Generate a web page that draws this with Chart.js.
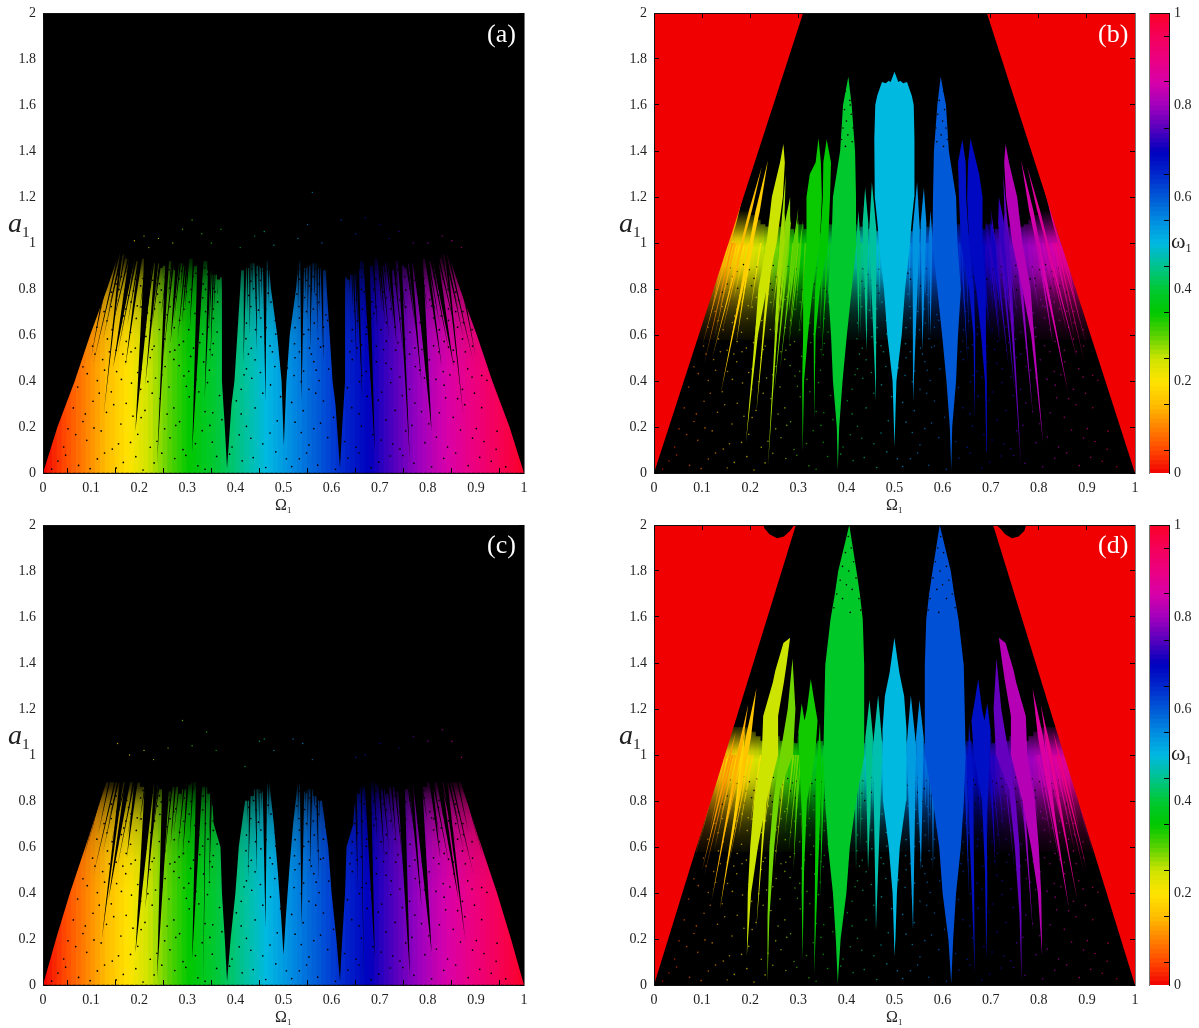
<!DOCTYPE html>
<html>
<head>
<meta charset="utf-8">
<script src="https://cdn.jsdelivr.net/npm/chart.js@4/dist/chart.umd.min.js"></script>
<style>
body { margin:0; background:#fff; width:1199px; height:1028px; overflow:hidden; position:relative; font-family:"Liberation Serif",serif; color:#222; }
canvas { position:absolute; }
.lab { position:absolute; white-space:nowrap; }
.lab sub { font-size:.55em; font-style:normal; vertical-align:-.35em; line-height:0; }
.aName { font-size:28px; font-style:italic; }
.wName { font-size:16px; }
.wBar { font-size:22px; }
.tag { font-size:26px; color:#fff; }
</style>
</head>
<body>
<script>
var xTickLabels = ["0","0.1","0.2","0.3","0.4","0.5","0.6","0.7","0.8","0.9","1"];
var yTickLabels = ["0","0.2","0.4","0.6","0.8","1","1.2","1.4","1.6","1.8","2"];
var barTickLabels = ["0","","0.2","","0.4","","0.6","","0.8","","1"];

var omegaGrid = [
.005,.015,.025,.035,.045,.055,.065,.075,.085,.095,.105,.115,.125,.135,.145,.155,.165,.175,.185,.195,
.205,.215,.225,.235,.245,.255,.265,.275,.285,.295,.305,.315,.325,.335,.345,.355,.365,.375,.385,.395,
.405,.415,.425,.435,.445,.455,.465,.475,.485,.495,.505,.515,.525,.535,.545,.555,.565,.575,.585,.595,
.605,.615,.625,.635,.645,.655,.665,.675,.685,.695,.705,.715,.725,.735,.745,.755,.765,.775,.785,.795,
.805,.815,.825,.835,.845,.855,.865,.875,.885,.895,.905,.915,.925,.935,.945,.955,.965,.975,.985,.995];

// top of the coloured columns, one per omegaGrid entry
var topA = [
.96,.96,.96,.96,.96,.96,.96,.96,.96,.96, .96,.96,.96,.96,.96,.97,.95,.93,.94,.92,
.93,.92,.9,.91,.89,.9,.92,.88,.91,.9, .93,.9,.89,.92,.88,.86,.84,.85,.85,.85,
.85,.88,.89,.91,.9,.89,.92,.93,.9,.89, .89,.9,.93,.92,.89,.9,.91,.89,.88,.85,
.85,.85,.85,.84,.86,.88,.92,.89,.9,.93, .9,.91,.88,.92,.9,.89,.91,.89,.92,.93,
.92,.94,.93,.95,.97,.96,.96,.96,.96,.96, .96,.96,.96,.96,.96,.96,.96,.96,.96,.96];
var topC = [
.88,.88,.88,.88,.88,.88,.88,.88,.88,.88, .88,.88,.88,.88,.88,.88,.88,.88,.88,.88,
.86,.84,.83,.87,.85,.82,.84,.86,.83,.85, .87,.88,.84,.86,.83,.78,.74,.8,.8,.8,
.8,.78,.8,.82,.85,.84,.87,.89,.88,.87, .87,.88,.89,.87,.84,.85,.82,.8,.78,.8,
.8,.8,.8,.74,.78,.83,.86,.84,.88,.87, .85,.83,.86,.84,.82,.85,.87,.83,.84,.86,
.88,.88,.88,.88,.88,.88,.88,.88,.88,.88, .88,.88,.88,.88,.88,.88,.88,.88,.88,.88];
var topB = [
1.14,1.14,1.14,1.14,1.14,1.14,1.14,1.14,1.14,1.14, 1.14,1.14,1.14,1.14,1.14,1.14,1.14,1.14,1.14,1.14,
1.12,1.1,1.08,1.07,1.1,1.06,1.07,1.04,1.06,1.04, 1.08,1.06,1.1,1.07,1.04,1.06,1.08,1.07,1.07,1.07,
1.07,1.08,1.05,1.07,1.06,1.08,1.05,1.07,1.1,1.12, 1.12,1.1,1.07,1.05,1.08,1.06,1.07,1.05,1.08,1.07,
1.07,1.07,1.07,1.08,1.06,1.04,1.07,1.1,1.06,1.08, 1.04,1.06,1.04,1.07,1.06,1.1,1.07,1.08,1.1,1.12,
1.14,1.14,1.14,1.14,1.14,1.14,1.14,1.14,1.14,1.14, 1.14,1.14,1.14,1.14,1.14,1.14,1.14,1.14,1.14,1.14];
var topD = [
1.12,1.12,1.12,1.12,1.12,1.12,1.12,1.12,1.12,1.12, 1.12,1.12,1.12,1.12,1.12,1.12,1.12,1.12,1.12,1.12,
1.1,1.08,1.06,1.08,1.05,1.08,1.06,1.04,1.06,1.05, 1.08,1.06,1.08,1.05,1.06,1.04,1.06,1.06,1.06,1.06,
1.06,1.06,1.08,1.05,1.07,1.06,1.08,1.06,1.08,1.08, 1.08,1.08,1.06,1.08,1.06,1.07,1.05,1.08,1.06,1.06,
1.06,1.06,1.06,1.06,1.04,1.06,1.05,1.08,1.06,1.08, 1.05,1.06,1.04,1.06,1.08,1.05,1.08,1.06,1.08,1.1,
1.12,1.12,1.12,1.12,1.12,1.12,1.12,1.12,1.12,1.12, 1.12,1.12,1.12,1.12,1.12,1.12,1.12,1.12,1.12,1.12];

// thin tongues: tip omega, tip a, top omega, top a, width
var tonguesA = [
[.192,.18,.222,1,.02],[.2125,.38,.24,1,.008],[.237,.04,.26,1,.008],[.31,.09,.329,1,.014],[.336,.32,.348,1,.007],
[.348,.48,.356,1,.004],[.417,.48,.421,1,.006],[.445,.53,.441,1,.005],[.4625,.31,.461,1,.009],[.146,.46,.19,1,.014],
[.126,.25,.165,1,.005],[.171,.46,.207,1,.008],[.289,.65,.303,1,.005],[.265,.565,.283,1,.009],[.1,.5,.145,1,.005],
[.808,.18,.778,1,.02],[.7875,.38,.76,1,.008],[.763,.04,.74,1,.008],[.69,.09,.671,1,.014],[.664,.32,.652,1,.007],
[.652,.48,.644,1,.004],[.583,.48,.579,1,.006],[.555,.53,.559,1,.005],[.5375,.31,.539,1,.009],[.854,.46,.81,1,.014],
[.874,.25,.835,1,.005],[.829,.46,.793,1,.008],[.711,.65,.697,1,.005],[.735,.565,.717,1,.009],[.9,.5,.855,1,.005]];
var tonguesC = [
[.192,.138,.226,1,.022],[.2125,.33,.24,1,.009],[.237,.03,.258,1,.017],[.31,.11,.327,1,.015],[.333,0,.339,1,.0025],
[.345,.4,.352,1,.004],[.4625,.25,.461,1,.011],[.445,.48,.441,1,.005],[.427,.45,.431,1,.004],[.122,.195,.17,1,.009],
[.136,.37,.185,1,.013],[.174,.55,.2,1,.009],[.29,.55,.305,1,.005],[.265,.6,.28,1,.005],
[.808,.138,.774,1,.022],[.7875,.33,.76,1,.009],[.763,.03,.742,1,.017],[.69,.11,.673,1,.015],[.667,0,.661,1,.0025],
[.655,.4,.648,1,.004],[.5375,.25,.539,1,.011],[.555,.48,.559,1,.005],[.573,.45,.569,1,.004],[.878,.195,.83,1,.009],
[.864,.37,.815,1,.013],[.826,.55,.8,1,.009],[.71,.55,.695,1,.005],[.735,.6,.72,1,.005]];

// hair-thin rays shared by every panel: tip omega, tip a, omega at a = 1
var rays = [
[.085,.55,.135],[.095,.62,.14],[.105,.48,.163],[.115,.66,.15],[.125,.58,.168],[.135,.7,.17],[.14,.6,.185],[.15,.72,.175],[.155,.52,.2],
[.165,.75,.192],[.175,.64,.205],[.18,.8,.198],[.2,.7,.222],[.205,.52,.235],[.225,.62,.25],[.23,.74,.25],[.245,.68,.265],[.25,.5,.275],
[.26,.76,.272],[.272,.66,.29],[.28,.58,.3],[.285,.78,.295],[.295,.7,.305],[.305,.62,.315],[.32,.72,.33],[.345,.6,.352],[.355,.7,.36],
[.362,.78,.365],[.425,.7,.425],[.43,.6,.43],[.435,.78,.434],[.45,.66,.448],[.455,.76,.453],[.47,.72,.468],[.478,.82,.476],
[.915,.55,.865],[.905,.62,.86],[.895,.48,.837],[.885,.66,.85],[.875,.58,.832],[.865,.7,.83],[.86,.6,.815],[.85,.72,.825],[.845,.52,.8],
[.835,.75,.808],[.825,.64,.795],[.82,.8,.802],[.8,.7,.778],[.795,.52,.765],[.775,.62,.75],[.77,.74,.75],[.755,.68,.735],[.75,.5,.725],
[.74,.76,.728],[.728,.66,.71],[.72,.58,.7],[.715,.78,.705],[.705,.7,.695],[.695,.62,.685],[.68,.72,.67],[.655,.6,.648],[.645,.7,.64],
[.638,.78,.635],[.575,.7,.575],[.57,.6,.57],[.565,.78,.566],[.55,.66,.552],[.545,.76,.547],[.53,.72,.532],[.522,.82,.524]];

// wide dark gaps of the unlocked panels, [omega, a] outline
var gapsA = [
[[.3826,.02],[.392,.3],[.398,.4],[.404,.6],[.41,.8],[.415,1],[.37,1],[.372,.8],[.372,.6],[.372,.4],[.378,.2]],
[[.5007,.12],[.506,.4],[.513,.6],[.526,.8],[.535,1],[.465,1],[.474,.8],[.487,.6],[.496,.4]],
[[.6174,.02],[.622,.2],[.628,.4],[.628,.6],[.628,.8],[.63,1],[.585,1],[.59,.8],[.596,.6],[.602,.4],[.608,.3]]];
var gapsC = [
[[.3826,.015],[.39,.2],[.4,.4],[.407,.6],[.42,.8],[.43,1],[.35,1],[.352,.8],[.355,.7],[.369,.6],[.372,.4],[.378,.2]],
[[.5,.13],[.505,.3],[.512,.5],[.52,.7],[.528,.85],[.535,1],[.465,1],[.472,.85],[.48,.7],[.488,.5],[.495,.3]],
[[.6174,.015],[.622,.2],[.628,.4],[.631,.6],[.645,.7],[.648,.8],[.65,1],[.57,1],[.58,.8],[.593,.6],[.6,.4],[.61,.2]]];

// outer corners, [omega, a] outline
var cornersA = [[[0,0],[.03,.2],[.066,.4],[.098,.6],[.133,.8],[.165,1],[.2,1.3],[0,1.3]],
  [[1,0],[.97,.2],[.934,.4],[.902,.6],[.867,.8],[.835,1],[.8,1.3],[1,1.3]]];
var cornersC = [[[0,0],[.027,.2],[.056,.4],[.088,.6],[.119,.8],[.15,1],[.2,1.3],[0,1.3]],
  [[1,0],[.973,.2],[.944,.4],[.912,.6],[.881,.8],[.85,1],[.8,1.3],[1,1.3]]];
var cornersB = [[[0,0],[.31,2],[0,2]],[[1,0],[.692,2],[1,2]]];
var cornersD = [[[0,0],[.295,2],[0,2]],[[1,0],[.705,2],[1,2]]];
var bitesD = [[[.226,2.01],[.23,1.985],[.24,1.96],[.256,1.942],[.27,1.95],[.283,1.975],[.295,2.01]],
  [[.705,2.01],[.72,1.985],[.73,1.96],[.744,1.942],[.758,1.95],[.77,1.975],[.775,2.01]]];

// large locked tongues: winding number, [omega, a] outline
var lockedB = [
[.5,[[.5,.113],[.504,.4],[.515,.6],[.522,.8],[.53,.95],[.536,1.1],[.541,1.2],[.541,1.3],[.542,1.45],[.54,1.6],[.536,1.64],[.526,1.7],[.518,1.695],[.512,1.705],[.508,1.7],[.5,1.745],[.492,1.7],[.488,1.705],[.482,1.695],[.474,1.7],[.464,1.64],[.46,1.6],[.458,1.45],[.459,1.3],[.459,1.2],[.464,1.1],[.47,.95],[.478,.8],[.485,.6],[.496,.4]]],
[.395,[[.382,.013],[.385,.2],[.392,.4],[.401,.6],[.411,.8],[.421,1],[.42,1.2],[.418,1.4],[.411,1.6],[.404,1.723],[.393,1.6],[.387,1.4],[.372,1.2],[.369,1],[.362,.8],[.368,.6],[.372,.4],[.38,.2]]],
[.6,[[.618,.013],[.62,.2],[.628,.4],[.632,.6],[.638,.8],[.631,1],[.628,1.2],[.613,1.4],[.607,1.6],[.596,1.723],[.589,1.6],[.582,1.4],[.58,1.2],[.579,1],[.589,.8],[.599,.6],[.608,.4],[.615,.2]]],
[.345,[[.309,.09],[.312,.4],[.32,.6],[.33,.8],[.345,1],[.349,1.2],[.347,1.35],[.342,1.455],[.336,1.35],[.324,1.3],[.317,1.2],[.317,1],[.31,.8],[.31,.6],[.308,.4]]],
[.35,[[.333,.23],[.336,.6],[.345,.8],[.362,1],[.366,1.2],[.368,1.35],[.359,1.45],[.352,1.35],[.351,1.2],[.345,1],[.335,.8],[.332,.6]]],
[.69,[[.691,.09],[.692,.4],[.69,.6],[.69,.8],[.683,1],[.683,1.2],[.676,1.3],[.658,1.455],[.653,1.35],[.651,1.2],[.655,1],[.67,.8],[.68,.6],[.688,.4]]],
[.68,[[.667,.23],[.668,.6],[.665,.8],[.655,1],[.649,1.2],[.648,1.35],[.641,1.45],[.632,1.35],[.634,1.2],[.638,1],[.655,.8],[.664,.6]]],
[.25,[[.191,.13],[.216,.6],[.234,.8],[.255,1],[.268,1.2],[.272,1.35],[.269,1.43],[.262,1.35],[.245,1.2],[.234,1],[.217,.8],[.21,.6]]],
[.82,[[.809,.13],[.79,.6],[.783,.8],[.766,1],[.755,1.2],[.738,1.35],[.731,1.43],[.728,1.35],[.732,1.2],[.745,1],[.766,.8],[.784,.6]]]];
var lockedD = [
[.39,[[.382,.006],[.388,.2],[.4,.4],[.407,.6],[.42,.8],[.437,1],[.437,1.39],[.434,1.59],[.428,1.7],[.421,1.8],[.406,2],[.383,1.8],[.376,1.7],[.367,1.59],[.356,1.39],[.352,1],[.356,.8],[.362,.6],[.372,.4],[.378,.2]]],
[.61,[[.618,.006],[.622,.2],[.628,.4],[.638,.6],[.644,.8],[.648,1],[.644,1.39],[.633,1.59],[.624,1.7],[.617,1.8],[.594,2],[.579,1.8],[.572,1.7],[.566,1.59],[.563,1.39],[.563,1],[.58,.8],[.593,.6],[.6,.4],[.612,.2]]],
[.5,[[.4997,.126],[.502,.2],[.505,.4],[.511,.6],[.524,.8],[.525,1.11],[.52,1.256],[.51,1.36],[.4997,1.51],[.49,1.36],[.48,1.256],[.475,1.11],[.476,.8],[.488,.6],[.496,.4],[.499,.2]]],
[.25,[[.193,.127],[.202,.4],[.216,.6],[.234,.8],[.258,1],[.258,1.17],[.27,1.315],[.276,1.4],[.283,1.51],[.269,1.487],[.252,1.365],[.247,1.315],[.227,1.17],[.224,1],[.208,.8],[.2,.6],[.195,.4]]],
[.82,[[.807,.127],[.805,.4],[.8,.6],[.792,.8],[.776,1],[.773,1.17],[.753,1.315],[.748,1.365],[.731,1.487],[.717,1.51],[.724,1.4],[.73,1.315],[.742,1.17],[.742,1],[.766,.8],[.784,.6],[.798,.4]]],
[.29,[[.236,.015],[.24,.3],[.25,.6],[.262,.85],[.289,1],[.294,1.2],[.288,1.42],[.278,1.2],[.262,1],[.248,.8],[.24,.6],[.236,.3]]],
[.76,[[.764,.015],[.764,.3],[.76,.6],[.752,.8],[.738,1],[.722,1.2],[.712,1.42],[.706,1.2],[.711,1],[.738,.85],[.75,.6],[.76,.3]]],
[.34,[[.309,.108],[.312,.5],[.318,.8],[.335,1],[.34,1.15],[.332,1.25],[.326,1.33],[.318,1.2],[.313,1.15],[.307,1.225],[.3,1.1],[.302,1],[.308,.7],[.307,.4]]],
[.68,[[.691,.108],[.693,.4],[.692,.7],[.698,1],[.7,1.1],[.693,1.225],[.687,1.15],[.682,1.2],[.674,1.33],[.668,1.25],[.66,1.15],[.665,1],[.682,.8],[.688,.5]]]];

// thin locked tongues: tip omega, tip a, peak omega, peak a, width, winding number
var spikesB = [
[.139,.35,.237,1.36,.009,.17],[.121,.5,.224,1.33,.006,.15],[.1,.55,.19,1.25,.004,.13],[.17,.55,.21,1.1,.005,.18],
[.2125,.26,.245,1,.006,.24],[.237,.03,.274,1.3,.008,.27],[.25,.35,.285,1.12,.006,.29],[.262,.45,.3,1.15,.005,.3],
[.28,.55,.31,1.1,.004,.31],[.3,.6,.33,1.15,.004,.33],[.348,.48,.36,.95,.003,.35],[.262,.7,.283,1.2,.012,.28],
[.25,.6,.272,1.13,.01,.27],[.28,.7,.3,1.1,.01,.3],[.442,.53,.439,1.24,.012,.45],[.4615,.31,.453,1.265,.015,.46],
[.425,.6,.425,1.14,.008,.43],[.558,.53,.561,1.24,.012,.55],[.5385,.31,.547,1.265,.015,.54],[.575,.6,.575,1.14,.008,.57],
[.861,.35,.763,1.36,.009,.85],[.879,.5,.776,1.33,.006,.87],[.9,.55,.81,1.25,.004,.89],[.83,.55,.79,1.1,.005,.83],
[.7875,.26,.755,1,.006,.79],[.763,.03,.726,1.3,.008,.76],[.75,.35,.715,1.12,.006,.74],[.738,.45,.7,1.15,.005,.73],
[.72,.55,.69,1.1,.004,.72],[.7,.6,.67,1.15,.004,.7],[.652,.48,.64,.95,.003,.65],[.738,.7,.717,1.2,.012,.73],
[.75,.6,.728,1.13,.01,.745],[.72,.7,.7,1.1,.01,.71]];
var spikesD = [
[.137,.33,.213,1.29,.011,.16],[.12,.37,.196,1.22,.008,.14],[.1,.5,.17,1.1,.005,.12],[.16,.6,.19,1.12,.005,.18],
[.2125,.24,.235,.9,.005,.24],[.29,.5,.3,.95,.004,.31],[.333,.05,.345,1.14,.012,.35],[.345,.38,.355,1.1,.005,.36],
[.42,.5,.42,1,.005,.43],[.4615,.24,.466,1.26,.02,.47],[.445,.5,.448,1.24,.016,.45],[.5385,.24,.534,1.26,.02,.53],
[.555,.5,.552,1.24,.016,.55],[.58,.5,.58,1,.005,.57],[.667,.05,.655,1.14,.012,.68],[.655,.38,.645,1.1,.005,.66],
[.71,.5,.7,.95,.004,.71],[.7875,.24,.765,.9,.005,.79],[.84,.6,.81,1.12,.005,.85],[.9,.5,.83,1.1,.005,.9],
[.88,.37,.804,1.22,.008,.88],[.863,.33,.787,1.29,.011,.86]];

// dark specks: omega, a pairs
var specks = [
.031,.052,.074,.033,.113,.061,.152,.022,.193,.071,.231,.044,.274,.063,.322,.031,.361,.072,.414,.053,.463,.024,.533,.062,.571,.034,.634,.065,.682,.023,.722,.074,.771,.042,.833,.064,.884,.032,.932,.051,
.043,.113,.091,.142,.144,.104,.182,.133,.223,.112,.264,.153,.291,.102,.352,.134,.393,.113,.432,.151,.484,.092,.553,.122,.592,.154,.651,.112,.703,.143,.742,.104,.794,.132,.841,.113,.893,.152,.942,.103,
.052,.192,.083,.224,.121,.183,.162,.213,.204,.241,.253,.192,.284,.223,.331,.184,.372,.232,.423,.203,.472,.174,.524,.221,.563,.193,.604,.242,.662,.204,.713,.231,.754,.183,.802,.214,.853,.242,.901,.193,.944,.182,
.063,.283,.104,.312,.132,.264,.173,.303,.212,.272,.243,.324,.272,.283,.304,.331,.353,.262,.402,.314,.441,.283,.494,.332,.541,.271,.583,.313,.642,.284,.674,.333,.732,.272,.773,.304,.824,.262,.862,.323,.912,.284,
.072,.374,.113,.402,.142,.353,.184,.391,.203,.364,.234,.413,.262,.374,.293,.422,.324,.353,.342,.393,.412,.364,.434,.412,.473,.383,.522,.424,.553,.364,.574,.402,.633,.371,.663,.424,.704,.352,.723,.393,.762,.364,.793,.414,.834,.382,.872,.364,.923,.403,
.083,.462,.124,.493,.153,.441,.172,.484,.204,.452,.223,.502,.254,.463,.272,.494,.303,.442,.334,.483,.352,.514,.423,.453,.441,.492,.482,.463,.524,.501,.542,.443,.563,.484,.594,.452,.643,.493,.672,.442,.693,.484,.724,.453,.753,.502,.774,.463,.803,.492,.832,.441,.854,.484,.883,.453,.912,.424,
.103,.552,.134,.583,.152,.534,.173,.572,.192,.543,.214,.594,.231,.552,.253,.583,.274,.534,.292,.572,.313,.543,.332,.604,.354,.563,.422,.584,.433,.542,.453,.592,.472,.553,.484,.604,.523,.562,.542,.603,.554,.543,.572,.584,.583,.552,.642,.574,.653,.544,.672,.603,.693,.552,.714,.573,.733,.534,.752,.582,.773,.544,.794,.593,.812,.553,.834,.572,.853,.534,.872,.583,.893,.552,
.112,.634,.133,.662,.144,.623,.163,.654,.182,.612,.194,.672,.213,.634,.224,.663,.242,.624,.254,.674,.273,.632,.284,.664,.303,.623,.324,.652,.343,.634,.354,.672,.362,.613,.423,.652,.442,.623,.453,.674,.464,.632,.483,.663,.524,.632,.533,.674,.552,.623,.564,.652,.583,.634,.592,.664,.643,.623,.654,.662,.673,.634,.682,.672,.703,.623,.714,.654,.732,.634,.743,.672,.763,.612,.784,.654,.793,.632,.812,.674,.824,.623,.843,.664,.862,.634,.874,.654,.892,.623,
.142,.724,.153,.752,.172,.713,.183,.744,.204,.722,.213,.764,.232,.714,.243,.742,.264,.723,.272,.754,.293,.712,.304,.743,.323,.724,.332,.762,.354,.713,.363,.744,.432,.724,.443,.762,.463,.714,.474,.743,.532,.724,.544,.763,.562,.713,.573,.742,.594,.724,.652,.753,.664,.712,.683,.744,.692,.723,.714,.762,.723,.714,.742,.753,.754,.722,.772,.743,.783,.712,.804,.754,.813,.723,.832,.744,.843,.714,.864,.752,
.152,.822,.163,.854,.174,.803,.192,.843,.203,.814,.224,.862,.242,.823,.254,.852,.263,.804,.283,.844,.294,.813,.312,.854,.333,.822,.342,.864,.354,.803,.432,.834,.444,.862,.463,.814,.533,.842,.554,.813,.562,.854,.574,.822,.663,.852,.674,.813,.692,.844,.703,.814,.724,.862,.732,.823,.752,.854,.763,.803,.782,.844,.793,.814,.813,.854,.824,.803,.832,.844,.843,.813,
.127,.702,.168,.683,.196,.727,.217,.696,.238,.778,.258,.688,.276,.766,.298,.788,.316,.694,.338,.702,.358,.788,.428,.772,.448,.708,.468,.782,.528,.778,.548,.702,.568,.776,.588,.688,.648,.702,.668,.788,.688,.694,.708,.788,.728,.766,.748,.688,.768,.778,.788,.696,.808,.727,.828,.683,.858,.702,.873,.702,
.142,.786,.158,.798,.178,.772,.188,.792,.208,.846,.218,.788,.228,.838,.246,.796,.268,.872,.288,.878,.308,.798,.318,.868,.328,.876,.338,.798,.348,.882,.438,.802,.452,.838,.458,.878,.528,.868,.542,.878,.548,.838,.558,.798,.652,.882,.662,.798,.668,.872,.678,.868,.688,.798,.712,.878,.732,.872,.754,.796,.772,.838,.782,.788,.792,.846,.822,.772,.842,.798,.858,.786,
.158,.892,.172,.876,.186,.906,.198,.884,.214,.896,.236,.882,.248,.902,.262,.884,.278,.898,.296,.886,.314,.902,.336,.892,.434,.888,.452,.902,.468,.886,.532,.886,.548,.902,.566,.888,.664,.892,.686,.902,.704,.886,.722,.898,.738,.884,.752,.902,.764,.882,.786,.896,.802,.884,.814,.906,.828,.876,.842,.892,
.018,.017,.047,.078,.098,.019,.128,.087,.167,.046,.208,.013,.247,.086,.297,.077,.337,.016,.388,.082,.437,.067,.517,.028,.548,.087,.608,.016,.657,.087,.698,.047,.748,.076,.808,.027,.858,.087,.908,.068,.962,.027,
.068,.167,.106,.196,.157,.127,.197,.168,.237,.138,.276,.207,.317,.128,.347,.207,.408,.166,.457,.127,.506,.062,.537,.176,.577,.217,.627,.137,.686,.167,.727,.127,.767,.207,.818,.156,.868,.187,.917,.137,
.088,.257,.117,.347,.147,.297,.187,.247,.227,.347,.258,.256,.298,.377,.337,.267,.367,.337,.412,.257,.457,.347,.487,.227,.517,.307,.567,.347,.617,.297,.657,.257,.697,.317,.747,.337,.787,.267,.837,.327,.877,.297,.897,.347,
.092,.432,.128,.447,.163,.407,.197,.437,.218,.397,.247,.427,.283,.467,.318,.407,.346,.447,.418,.427,.452,.437,.508,.457,.537,.397,.568,.447,.612,.417,.658,.397,.682,.417,.713,.477,.742,.417,.783,.447,.817,.407,.846,.427,.892,.417,
.108,.517,.138,.527,.166,.517,.183,.527,.207,.567,.227,.537,.264,.527,.283,.557,.307,.507,.326,.567,.347,.537,.427,.517,.462,.567,.477,.527,.533,.527,.558,.517,.577,.547,.638,.527,.662,.557,.683,.517,.708,.537,.738,.567,.762,.517,.788,.537,.823,.527,.843,.547,.878,.527];

// black grain on the speckled tips of the largest locked tongues: omega, a pairs
var tipSpecksB = [.398,1.66,.407,1.62,.396,1.58,.41,1.56,.4,1.53,.393,1.5,.414,1.5,.403,1.47,.39,1.45,.412,1.44,.398,1.42,.408,1.6,.602,1.66,.593,1.62,.604,1.58,.59,1.56,.6,1.53,.607,1.5,.586,1.5,.597,1.47,.61,1.45,.588,1.44,.602,1.42];
var tipSpecksD = [.404,1.95,.41,1.9,.398,1.88,.415,1.84,.392,1.82,.405,1.8,.42,1.77,.387,1.76,.4,1.74,.412,1.72,.38,1.7,.426,1.68,.392,1.68,.374,1.64,.43,1.63,.408,1.62,.596,1.95,.59,1.9,.602,1.88,.585,1.84,.608,1.82,.595,1.8,.58,1.77,.613,1.76,.6,1.74,.588,1.72,.62,1.7,.574,1.68,.608,1.68,.626,1.64,.57,1.63,.592,1.62];

// thin scatter above the coloured regions of (a) and (c): omega, a pairs
var fringeA = [.19,1.01,.21,1.03,.22,.98,.24,1.02,.27,1.0,.29,1.06,.31,1.1,.33,1.04,.35,1.0,.37,1.06,.41,.98,.44,1.03,.46,1.05,.48,.99,.53,1.02,.55,1.08,.56,1.22,.58,1.0,.62,1.1,.65,1.04,.67,1.11,.7,1.08,.72,1.02,.74,1.05,.77,1.0,.8,1.0,.83,1.03,.85,1.01,.87,.98];
var fringeC = [.155,1.05,.18,1.0,.21,1.02,.23,.98,.26,1.03,.29,1.15,.31,1.04,.34,1.1,.36,1.02,.42,.95,.45,1.06,.46,1.07,.48,1.02,.52,1.07,.54,1.05,.56,.98,.65,.99,.67,1.0,.7,1.05,.74,1.03,.77,1.08,.8,1.06,.83,1.11,.85,1.06,.87,.99];

// how dark the speckling makes each height
var fadeLevelsA = [.45,.6,.7,.78,.84,.88,.92,.97];
var fadeLevelsC = [.4,.55,.65,.73,.79,.83,.86,.9];
var fadeDark = [0,.05,.14,.26,.42,.6,.8,.95];
var lockedLevels = [.55,.6,.65,.7,.75,.8,.85,.9,.98,1.02,1.06,1.1,1.14,1.18];
var lockedDark = [1,.93,.86,.76,.62,.45,.25,.08,0,.15,.45,.72,.97,1];

// column colour against omega: the colour scale runs slightly ahead of omega below 0.3
var hueOmega = [0,.18,.3,1];
var hueWinding = [0,.2,.345,1];

var colourStops = [
[0,240,0,0],[.05,255,70,0],[.1,255,130,0],[.15,255,190,0],[.2,255,228,0],[.25,205,228,0],[.3,90,210,0],[.35,0,200,0],
[.4,0,200,50],[.45,0,195,140],[.5,0,185,225],[.55,0,140,225],[.6,0,90,215],[.65,0,40,205],[.7,0,0,190],[.75,85,0,190],
[.8,160,0,190],[.85,215,0,170],[.9,235,0,130],[.95,245,0,90],[1,250,0,40]];

function colourAt(w, alpha) {
  var i = 0;
  while (i < colourStops.length - 2 && w > colourStops[i + 1][0]) i++;
  var p = colourStops[i], q = colourStops[i + 1], t = (w - p[0]) / (q[0] - p[0]);
  var c = [1, 2, 3].map(function (k) { return Math.round(p[k] + (q[k] - p[k]) * t); });
  return "rgba(" + c.join(",") + "," + (alpha === undefined ? 1 : alpha) + ")";
}

function columnColour(w) {
  var i = 0;
  while (i < hueOmega.length - 2 && w > hueOmega[i + 1]) i++;
  var t = (w - hueOmega[i]) / (hueOmega[i + 1] - hueOmega[i]);
  return colourAt(hueWinding[i] + (hueWinding[i + 1] - hueWinding[i]) * t);
}

function pairs(flat) {
  var out = [];
  for (var i = 0; i < flat.length; i += 2) out.push({ x: flat[i], y: flat[i + 1] });
  return out;
}

function outline(points, colour) {
  return { type: "line", data: points.map(function (p) { return { x: p[0], y: p[1] }; }),
    fill: "shape", backgroundColor: colour, borderWidth: 0, pointRadius: 0, tension: 0 };
}

function columns(low, tops) {
  return { type: "bar", grouped: false, barThickness: 5.6, borderWidth: 0,
    data: omegaGrid.map(function (w, i) { return { x: w, y: [low, tops[i]] }; }),
    backgroundColor: omegaGrid.map(columnColour) };
}

function dots(points, colours, radius) {
  return { type: "line", showLine: false, data: points, pointRadius: radius, pointBorderWidth: 0,
    pointBackgroundColor: colours };
}

// black veil over the columns, dark values turned into a vertical gradient
function veil(levels, dark) {
  var lo = levels[0], hi = levels[levels.length - 1];
  return outline([[0, lo], [1, lo], [1, hi], [0, hi]], function (ctx) {
    var c = ctx.chart;
    if (!c.chartArea) return "transparent";
    var g = c.ctx.createLinearGradient(0, c.scales.y.getPixelForValue(lo), 0, c.scales.y.getPixelForValue(hi));
    levels.forEach(function (l, i) { g.addColorStop((l - lo) / (hi - lo), "rgba(0,0,0," + dark[i] + ")"); });
    return g;
  });
}

function tongue(t, colour) {
  return outline([[t[0], t[1]], [t[2] - t[4] / 2, t[3]], [t[2] + t[4] / 2, t[3]]], colour);
}

function spike(t) {
  var mx = t[0] + (t[2] - t[0]) * .78, my = t[1] + (t[3] - t[1]) * .78;
  return outline([[t[0], t[1]], [mx + t[4] / 2, my], [t[2], t[3]], [mx - t[4] / 2, my]], colourAt(t[5]));
}

function unlockedLayers(tops, levels, gaps, tongues, corners, fringe) {
  var out = [columns(0, tops), veil(levels, fadeDark)];
  gaps.forEach(function (g) { out.push(outline(g, "#000")); });
  tongues.forEach(function (t) { out.push(tongue(t, "#000")); });
  rays.forEach(function (r) { out.push(tongue([r[0], r[1], r[2], 1, .004], "#000")); });
  out.push(dots(pairs(specks), "#000", 0.85));
  corners.forEach(function (c) { out.push(outline(c, "#000")); });
  var fr = pairs(fringe);
  out.push(dots(fr, fr.map(function (p) { return colourAt(p.x, .75); }), 0.7));
  return out;
}

function lockedLayers(tops, locked, spikes, corners, bites, tipSpecks) {
  var speckPts = pairs(specks);
  var out = [columns(.58, tops), veil(lockedLevels, lockedDark)];
  out.push(dots(speckPts, speckPts.map(function (p) { return p.y > .78 ? "#000" : colourAt(p.x, .65); }), 0.8));
  rays.forEach(function (r) { out.push(tongue([r[0], r[1], r[2], 1, .004], colourAt(r[0], .8))); });
  spikes.forEach(function (t) { out.push(spike(t)); });
  locked.forEach(function (l) { out.push(outline(l[1], colourAt(l[0]))); });
  out.push(dots(pairs(tipSpecks), "#000", 0.8));
  corners.forEach(function (c) { out.push(outline(c, "rgb(240,0,0)")); });
  bites.forEach(function (b) { out.push(outline(b, "#000")); });
  return out;
}

var tickFont = { family: "Liberation Serif", size: 14 };

function edgeAxis(pos, max, step, labels, size) {
  var horizontal = pos === "top" || pos === "bottom";
  return {
    type: "linear", position: pos, min: 0, max: max, offset: false,
    grid: { drawOnChartArea: false, drawTicks: true, tickLength: -5, tickColor: "#000", tickWidth: 1, z: 1 },
    border: { color: pos === "right" ? "#777" : "#111", width: 1, z: 1 },
    ticks: {
      display: !!labels, stepSize: step, autoSkip: false, maxRotation: 0, font: tickFont, color: "#222",
      padding: 12, includeBounds: true,
      callback: function (v, i) { return labels ? labels[i] : ""; }
    },
    afterFit: function (s) {
      if (horizontal) s.height = size; else s.width = size;
      s.paddingLeft = s.paddingRight = s.paddingTop = s.paddingBottom = 0;
    }
  };
}

function panel(left, top, datasets) {
  var cv = document.createElement("canvas");
  cv.width = 529; cv.height = 510;
  cv.style.left = left + "px"; cv.style.top = top + "px";
  document.body.appendChild(cv);
  datasets.forEach(function (d, i) { d.order = datasets.length - i; });
  return new Chart(cv, {
    type: "scatter",
    data: { datasets: datasets },
    options: {
      responsive: false, animation: false, events: [],
      layout: { padding: { top: 13, right: 5, left: 0, bottom: 0 } },
      plugins: { legend: { display: false }, tooltip: { enabled: false } },
      scales: {
        x: edgeAxis("bottom", 1, .1, xTickLabels, 37),
        y: edgeAxis("left", 2, .2, yTickLabels, 43),
        xTop: edgeAxis("top", 1, .1, null, 0),
        yRight: edgeAxis("right", 2, .2, null, 0)
      }
    },
    plugins: [{
      id: "blackArea",
      beforeDatasetsDraw: function (c) {
        var a = c.chartArea;
        c.ctx.save(); c.ctx.fillStyle = "#000"; c.ctx.fillRect(a.left, a.top, a.width, a.height); c.ctx.restore();
      }
    }]
  });
}

function colourBar(top) {
  var cv = document.createElement("canvas");
  cv.width = 50; cv.height = 510;
  cv.style.left = "1149px"; cv.style.top = top + "px";
  document.body.appendChild(cv);
  var a = edgeAxis("right", 1, .1, barTickLabels, 30);
  a.border.color = "#111";
  a.ticks.padding = 10;
  return new Chart(cv, {
    type: "bar",
    data: { datasets: [{
      barThickness: 5.4, borderWidth: 0,
      data: omegaGrid.map(function (w) { return { x: [0, 1], y: w }; }),
      backgroundColor: omegaGrid.map(function (w) { return colourAt(w); })
    }] },
    options: {
      indexAxis: "y", responsive: false, animation: false, events: [],
      layout: { padding: { top: 13, right: 0, left: 0, bottom: 37 } },
      plugins: { legend: { display: false }, tooltip: { enabled: false } },
      scales: {
        x: { type: "linear", position: "top", min: 0, max: 1, offset: false,
             grid: { drawOnChartArea: false, drawTicks: false }, border: { color: "#111", z: 1 },
             ticks: { display: false }, afterFit: function (s) { s.height = 0; s.paddingLeft = s.paddingRight = 0; } },
        y: a,
        yLeft: { type: "linear", position: "left", min: 0, max: 1, grid: { drawOnChartArea: false, drawTicks: false },
             border: { color: "#777", z: 1 }, ticks: { display: false }, afterFit: function (s) { s.width = 0; s.paddingTop = s.paddingBottom = 0; } }
      }
    }
  });
}

panel(0, 0, unlockedLayers(topA, fadeLevelsA, gapsA, tonguesA, cornersA, fringeA));
panel(611, 0, lockedLayers(topB, lockedB, spikesB, cornersB, [], tipSpecksB));
panel(0, 512, unlockedLayers(topC, fadeLevelsC, gapsC, tonguesC, cornersC, fringeC));
panel(611, 512, lockedLayers(topD, lockedD, spikesD, cornersD, bitesD, tipSpecksD));
colourBar(0);
colourBar(512);

// axis names and panel tags
var texts = [
  ["aName", 8, 207, "a<sub>1</sub>"], ["aName", 619, 207, "a<sub>1</sub>"], ["aName", 8, 719, "a<sub>1</sub>"], ["aName", 619, 719, "a<sub>1</sub>"],
  ["wName", 275, 496, "Ω<sub>1</sub>"], ["wName", 886, 496, "Ω<sub>1</sub>"], ["wName", 275, 1008, "Ω<sub>1</sub>"], ["wName", 886, 1008, "Ω<sub>1</sub>"],
  ["wBar", 1171, 228, "ω<sub>1</sub>"], ["wBar", 1171, 740, "ω<sub>1</sub>"],
  ["tag", 487, 19, "(a)"], ["tag", 1098, 19, "(b)"], ["tag", 487, 530, "(c)"], ["tag", 1098, 530, "(d)"]
];
texts.forEach(function (t) {
  var el = document.createElement("div");
  el.className = "lab " + t[0];
  el.style.left = t[1] + "px"; el.style.top = t[2] + "px";
  el.innerHTML = t[3];
  document.body.appendChild(el);
});
</script>
</body>
</html>
